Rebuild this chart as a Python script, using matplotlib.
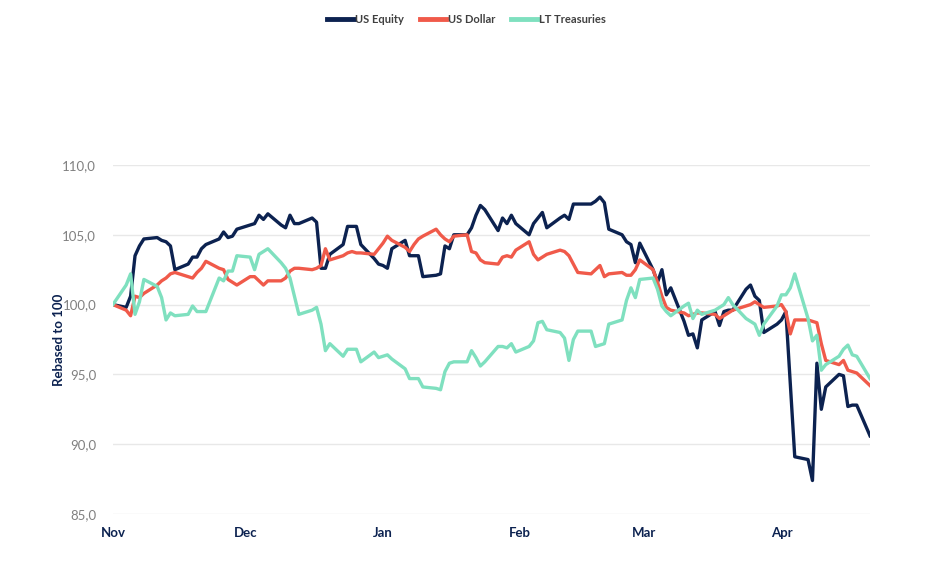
import pandas as pd
import numpy as np
import matplotlib
matplotlib.use('Agg')
import matplotlib.pyplot as plt
import matplotlib.dates as mdates
from matplotlib.ticker import FuncFormatter

plt.rcParams['font.family'] = ['Lato', 'DejaVu Sans']

# business days, holidays carried flat
dates = pd.bdate_range('2024-11-01', '2025-04-21')

us_equity = [
    # Nov
    100.0, 99.8, 100.6, 103.5, 104.2, 104.7, 104.8, 104.6, 104.5, 104.2, 102.5,
    102.9, 103.4, 103.4, 104.0, 104.3, 104.7, 105.2, 104.8, 104.9, 105.4,
    # Dec
    105.7, 105.8, 106.4, 106.1, 106.5, 105.7, 105.5, 106.4, 105.8, 105.8,
    106.2, 105.9, 102.6, 102.6, 103.6, 104.3, 105.6, 105.6, 105.6, 104.3,
    103.3, 102.9,
    # Jan
    102.8, 102.6, 104.0, 104.6, 103.5, 103.5, 103.5, 102.0, 102.1, 102.2,
    104.2, 104.0, 105.0, 105.0, 105.5, 106.4, 107.1, 106.8, 105.3, 106.2,
    105.8, 106.4, 105.8,
    # Feb
    105.0, 105.8, 106.2, 106.6, 105.5, 106.2, 106.4, 106.1, 107.2, 107.2,
    107.2, 107.4, 107.7, 107.3, 105.4, 105.0, 104.5, 104.3, 103.0, 104.4,
    # Mar
    102.5, 101.6, 102.5, 100.7, 101.2, 98.8, 97.8, 97.9, 96.9, 98.9,
    99.5, 98.5, 99.5, 99.6, 99.6, 101.1, 101.4, 100.6, 100.3, 98.0,
    98.6,
    # Apr
    98.9, 99.5, 94.3, 89.1, 88.9, 87.4, 95.8, 92.5, 94.1, 95.0,
    94.9, 92.7, 92.8, 92.8, 90.6,
]

us_dollar = [
    # Nov
    100.0, 99.6, 99.2, 100.6, 100.5, 100.8, 101.4, 101.7, 101.9, 102.2, 102.3,
    102.0, 101.9, 102.3, 102.6, 103.1, 102.6, 102.5, 101.8, 101.6, 101.4,
    # Dec
    102.0, 102.0, 101.7, 101.4, 101.7, 101.7, 101.9, 102.4, 102.6, 102.6,
    102.5, 102.6, 102.8, 104.0, 103.2, 103.5, 103.7, 103.8, 103.7, 103.7,
    103.6, 104.0,
    # Jan
    104.4, 104.9, 104.6, 104.1, 103.8, 104.3, 104.7, 104.9, 105.4, 105.0,
    104.7, 104.5, 104.9, 105.0, 103.8, 103.7, 103.2, 103.0, 102.9, 103.4,
    103.5, 103.4, 103.9,
    # Feb
    104.5, 103.6, 103.2, 103.4, 103.6, 103.9, 103.8, 103.5, 102.9, 102.3,
    102.2, 102.5, 102.8, 102.0, 102.2, 102.3, 102.1, 102.1, 102.5, 103.2,
    # Mar
    102.5, 101.6, 100.6, 99.8, 99.6, 99.4, 99.2, 99.3, 99.4, 99.4,
    99.3, 99.0, 99.2, 99.4, 99.6, 99.9, 100.0, 100.2, 100.0, 99.8,
    99.9,
    # Apr
    100.0, 99.5, 97.9, 98.9, 98.9, 98.8, 98.7, 97.2, 96.0, 95.7,
    96.0, 95.3, 95.2, 95.1, 94.2,
]

lt_treasuries = [
    # Nov
    100.0, 101.4, 102.2, 99.3, 100.2, 101.8, 101.3, 100.5, 98.9, 99.4, 99.2,
    99.3, 99.9, 99.5, 99.5, 99.5, 101.9, 101.7, 102.4, 102.4, 103.5,
    # Dec
    103.4, 102.5, 103.6, 103.8, 104.0, 103.0, 102.6, 101.9, 100.6, 99.3,
    99.6, 99.8, 98.6, 96.7, 97.2, 96.3, 96.8, 96.8, 96.8, 95.9,
    96.6, 96.2,
    # Jan
    96.3, 96.4, 96.1, 95.4, 94.7, 94.7, 94.7, 94.1, 94.0, 93.9,
    95.2, 95.8, 95.9, 95.9, 96.7, 96.2, 95.6, 95.9, 97.0, 97.0,
    96.9, 97.2, 96.6,
    # Feb
    97.0, 97.4, 98.7, 98.8, 98.2, 98.0, 97.6, 96.0, 97.5, 98.1,
    98.1, 97.0, 97.1, 97.2, 98.6, 98.9, 100.3, 101.2, 100.5, 101.8,
    # Mar
    101.9, 101.1, 99.9, 99.5, 99.2, 99.9, 100.1, 99.0, 99.6, 99.3,
    99.6, 99.8, 100.0, 100.5, 100.0, 99.0, 98.8, 98.6, 97.8, 98.6,
    99.9,
    # Apr
    100.7, 100.7, 101.2, 102.2, 99.0, 97.4, 97.8, 95.3, 95.7, 96.3,
    96.8, 97.1, 96.4, 96.3, 94.7,
]

series_names = ['US Equity', 'US Dollar', 'LT Treasuries']
colors = ['#0c2250', '#f05a4a', '#7fe0bf']

df = pd.DataFrame({'US Equity': us_equity, 'US Dollar': us_dollar,
                   'LT Treasuries': lt_treasuries}, index=dates)

fig = plt.figure(figsize=(9.33, 5.63), dpi=100)
ax = fig.add_axes([0.121, 0.087, 0.8115, 0.62])

for name, c in zip(series_names, colors):
    ax.plot(df.index, df[name], color=c, lw=2.4, label=name,
            solid_joinstyle='round')

ax.set_ylim(85, 110)
ax.set_yticks([85, 90, 95, 100, 105, 110])
ax.yaxis.set_major_formatter(FuncFormatter(lambda v, p: f'{v:.1f}'.replace('.', ',')))
ax.set_xlim(pd.Timestamp('2024-11-01'), pd.Timestamp('2025-04-21'))
ax.xaxis.set_major_locator(mdates.MonthLocator())
ax.xaxis.set_major_formatter(mdates.DateFormatter('%b'))

ax.grid(axis='y', color='#e8e8e8', lw=1)
ax.set_axisbelow(True)
for s in ax.spines.values():
    s.set_visible(False)
ax.tick_params(axis='both', length=0)
ax.tick_params(axis='y', labelsize=9.5, labelcolor='#808080', pad=12)
ax.tick_params(axis='x', labelsize=9.5, labelcolor='#0c2250', pad=9)
for lbl in ax.get_xticklabels():
    lbl.set_fontweight('bold')

ax.set_ylabel('Rebased to 100', fontsize=9.5, fontweight='bold', color='#0c2250')
ax.yaxis.set_label_coords(-0.063, 0.5)

leg = fig.legend(loc='upper center', bbox_to_anchor=(0.5, 0.993), ncol=3, frameon=False,
                 handlelength=2.4, handletextpad=0.15, columnspacing=1.4,
                 labelcolor='#404040', prop={'weight': 'bold', 'size': 8})
for h in leg.legend_handles:
    h.set_linewidth(3.5)

fig.savefig('out.png', dpi=100)
